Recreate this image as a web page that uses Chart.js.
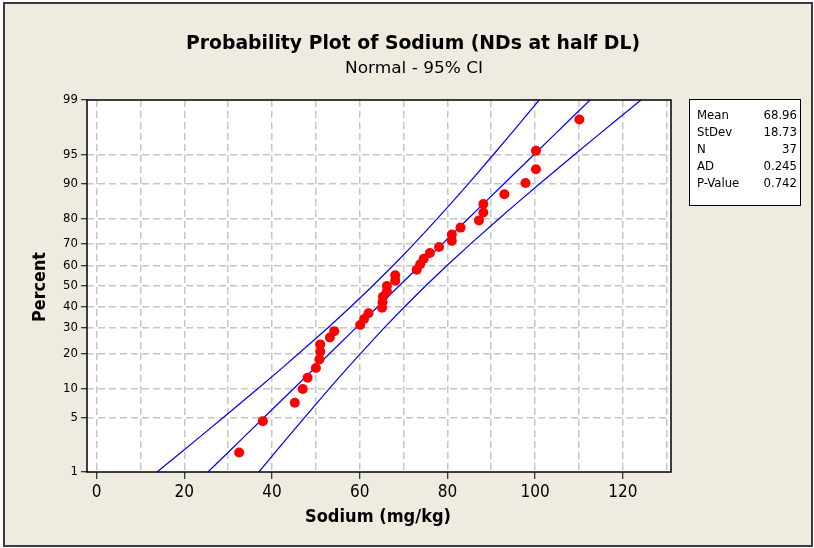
<!DOCTYPE html>
<html><head><meta charset="utf-8">
<script src="https://cdn.jsdelivr.net/npm/chart.js@4"></script>
<style>html,body{margin:0;padding:0;background:#fff;}#wrap{width:814px;height:548px;position:relative;}</style>
</head><body><div id="wrap"><canvas id="c" width="814" height="548"></canvas></div>
<script>
// ---- data ----
const sodium = [32.5, 37.9, 45.2, 47.0, 48.1, 50.0, 50.8, 51.0, 51.0, 53.2, 54.2, 60.1, 61.0, 62.0, 65.1, 65.2, 65.3, 66.2, 66.2, 68.1, 68.1, 73.0, 73.8, 74.6, 76.0, 78.1, 81.0, 81.0, 83.0, 87.2, 88.2, 88.2, 93.0, 97.8, 100.2, 100.2, 110.1];
const percentRank = [1.87, 4.55, 7.22, 9.89, 12.57, 15.24, 17.91, 20.59, 23.26, 25.94, 28.61, 31.28, 33.96, 36.63, 39.30, 41.98, 44.65, 47.33, 50.00, 52.67, 55.35, 58.02, 60.70, 63.37, 66.04, 68.72, 71.39, 74.06, 76.74, 79.41, 82.09, 84.76, 87.43, 90.11, 92.78, 95.45, 98.13];
const ciPercent = [0.5, 1, 2, 3, 5, 10, 15, 20, 30, 40, 50, 60, 70, 80, 85, 90, 95, 97, 98, 99, 99.5];
const fitLine = [20.72, 25.39, 30.49, 33.73, 38.15, 44.96, 49.55, 53.20, 59.14, 64.22, 68.96, 73.70, 78.78, 84.72, 88.37, 92.96, 99.77, 104.19, 107.43, 112.53, 117.21];
const lowerCI = [8.18, 13.77, 19.85, 23.69, 28.89, 36.81, 42.07, 46.17, 52.70, 58.08, 62.92, 67.57, 72.35, 77.70, 80.89, 84.82, 90.51, 94.15, 96.79, 100.91, 104.67];
const upperCI = [33.26, 37.01, 41.14, 43.78, 47.41, 53.10, 57.03, 60.22, 65.57, 70.35, 75.00, 79.84, 85.22, 91.75, 95.86, 101.11, 109.03, 114.23, 118.07, 124.15, 129.75];
const yTickPercents = [1, 5, 10, 20, 30, 40, 50, 60, 70, 80, 90, 95, 99];
const xTickValues = [0, 10, 20, 30, 40, 50, 60, 70, 80, 90, 100, 110, 120, 130];
const xTickLabels = ['0', '', '20', '', '40', '', '60', '', '80', '', '100', '', '120', ''];
const statLabels = ['Mean', 'StDev', 'N', 'AD', 'P-Value'];
const statValues = ['68.96', '18.73', '37', '0.245', '0.742'];
const titleText = 'Probability Plot of Sodium (NDs at half DL)';
const subtitleText = 'Normal - 95% CI';
const xTitle = 'Sodium (mg/kg)';
const yTitle = 'Percent';

// inverse standard normal (normal probability scale)
function probit(p){
  const a=[-3.969683028665376e+01,2.209460984245205e+02,-2.759285104469687e+02,1.383577518672690e+02,-3.066479806614716e+01,2.506628277459239e+00];
  const b=[-5.447609879822406e+01,1.615858368580409e+02,-1.556989798598866e+02,6.680131188771972e+01,-1.328068155288572e+01];
  const c=[-7.784894002430293e-03,-3.223964580411365e-01,-2.400758277161838e+00,-2.549732539343734e+00,4.374664141464968e+00,2.938163982698783e+00];
  const d=[7.784695709041462e-03,3.224671290700398e-01,2.445134137142996e+00,3.754408661907416e+00];
  const pl=0.02425, ph=1-pl; let q, r;
  if(p<pl){ q=Math.sqrt(-2*Math.log(p)); return (((((c[0]*q+c[1])*q+c[2])*q+c[3])*q+c[4])*q+c[5])/((((d[0]*q+d[1])*q+d[2])*q+d[3])*q+1); }
  if(p>ph){ q=Math.sqrt(-2*Math.log(1-p)); return -(((((c[0]*q+c[1])*q+c[2])*q+c[3])*q+c[4])*q+c[5])/((((d[0]*q+d[1])*q+d[2])*q+d[3])*q+1); }
  q=p-0.5; r=q*q;
  return (((((a[0]*r+a[1])*r+a[2])*r+a[3])*r+a[4])*r+a[5])*q/(((((b[0]*r+b[1])*r+b[2])*r+b[3])*r+b[4])*r+1);
}
const zOf = pct => probit(pct/100);

const FONT = "'DejaVu Sans Condensed','DejaVu Sans',sans-serif";
const GRID = '#c6c6c6';

function fitText(ctx, text, x, y, font, targetW, rotate){
  ctx.save();
  ctx.font = font;
  const w = ctx.measureText(text).width;
  const s = targetW ? targetW / w : 1;
  ctx.translate(x, y);
  if (rotate) ctx.rotate(-Math.PI/2);
  ctx.scale(s, 1);
  ctx.textAlign = 'center';
  ctx.textBaseline = 'middle';
  ctx.fillStyle = '#000';
  ctx.fillText(text, 0, 0);
  ctx.restore();
}

const decor = {
  id: 'decor',
  beforeDraw(chart){
    const ctx = chart.ctx, a = chart.chartArea;
    ctx.save();
    ctx.fillStyle = '#ffffff'; ctx.fillRect(0, 0, 814, 548);
    ctx.fillStyle = 'rgb(239,235,225)'; ctx.fillRect(4, 3, 808, 543);
    ctx.strokeStyle = '#3c3c3c'; ctx.lineWidth = 2; ctx.strokeRect(4, 3, 808, 543);
    ctx.fillStyle = '#ffffff'; ctx.fillRect(a.left, a.top, a.right - a.left, a.bottom - a.top);
    ctx.restore();
  },
  afterDraw(chart){
    const ctx = chart.ctx, a = chart.chartArea;
    ctx.save();
    ctx.strokeStyle = '#000'; ctx.lineWidth = 1.5;
    ctx.strokeRect(a.left, a.top, a.right - a.left, a.bottom - a.top);
    ctx.restore();
    fitText(ctx, titleText, 413, 44, "bold 20px " + FONT, 454);
    fitText(ctx, subtitleText, 414, 69, "16px " + FONT, 138);
    fitText(ctx, xTitle, 378, 517, "bold 18px " + FONT, 146);
    fitText(ctx, yTitle, 41, 287, "bold 17px " + FONT, 70, true);
    // statistics box
    ctx.save();
    ctx.fillStyle = '#fff';
    ctx.fillRect(689.5, 99.5, 111, 106);
    ctx.strokeStyle = '#000'; ctx.lineWidth = 1;
    ctx.strokeRect(689.5, 99.5, 111, 106);
    ctx.font = "13px " + FONT;
    ctx.fillStyle = '#000';
    ctx.textBaseline = 'alphabetic';
    for (let i = 0; i < statLabels.length; i++) {
      const y = 118.5 + i * 17.2;
      ctx.textAlign = 'left'; ctx.fillText(statLabels[i], 697, y);
      ctx.textAlign = 'right'; ctx.fillText(statValues[i], 797, y);
    }
    ctx.restore();
  }
};

const pts = sodium.map((v, i) => ({x: v, y: zOf(percentRank[i])}));
const band = arr => arr.map((v, i) => ({x: v, y: zOf(ciPercent[i])}));
const lineDs = (data) => ({type: 'line', data, showLine: true, borderColor: '#0000ff', borderWidth: 1.2, pointRadius: 0, fill: false, tension: 0, order: 2, clip: 0});

new Chart(document.getElementById('c'), {
  type: 'scatter',
  data: {
    datasets: [
      {data: pts, backgroundColor: '#ff0000', borderColor: '#ff0000', pointRadius: 5, pointBorderWidth: 0, order: 0},
      lineDs(band(fitLine)),
      lineDs(band(lowerCI)),
      lineDs(band(upperCI))
    ]
  },
  options: {
    responsive: false,
    animation: false,
    devicePixelRatio: 1,
    layout: {padding: {top: 100, right: 143, bottom: 0, left: 0}},
    plugins: {legend: {display: false}, tooltip: {enabled: false}, title: {display: false}},
    scales: {
      x: {
        type: 'linear', min: -2.2, max: 131,
        afterBuildTicks: s => { s.ticks = xTickValues.map(v => ({value: v})); },
        afterFit: s => { s.height = 76; },
        ticks: {callback: (v, i) => xTickLabels[i], font: {family: FONT, size: 17}, color: '#000', padding: 3, maxRotation: 0, autoSkip: false},
        grid: {color: GRID, lineWidth: 1.5, tickColor: c => (c.tick && c.tick.value % 20 === 0) ? '#000' : 'rgba(0,0,0,0)', tickLength: 7, tickWidth: 1, tickBorderDash: []},
        border: {display: false, dash: [7, 4]}
      },
      y: {
        type: 'linear', min: zOf(1), max: zOf(99),
        afterBuildTicks: s => { s.ticks = yTickPercents.map(p => ({value: zOf(p)})); },
        afterFit: s => { s.width = 87; },
        ticks: {callback: (v, i) => String(yTickPercents[i]), font: {family: FONT, size: 13}, color: '#000', padding: 3, autoSkip: false},
        grid: {color: c => (c.index === 0 || c.index === yTickPercents.length - 1) ? 'rgba(0,0,0,0)' : GRID, lineWidth: 1.5, tickColor: '#000', tickLength: 6, tickWidth: 1, tickBorderDash: []},
        border: {display: false, dash: [7, 4]}
      }
    }
  },
  plugins: [decor]
});
</script></body></html>
